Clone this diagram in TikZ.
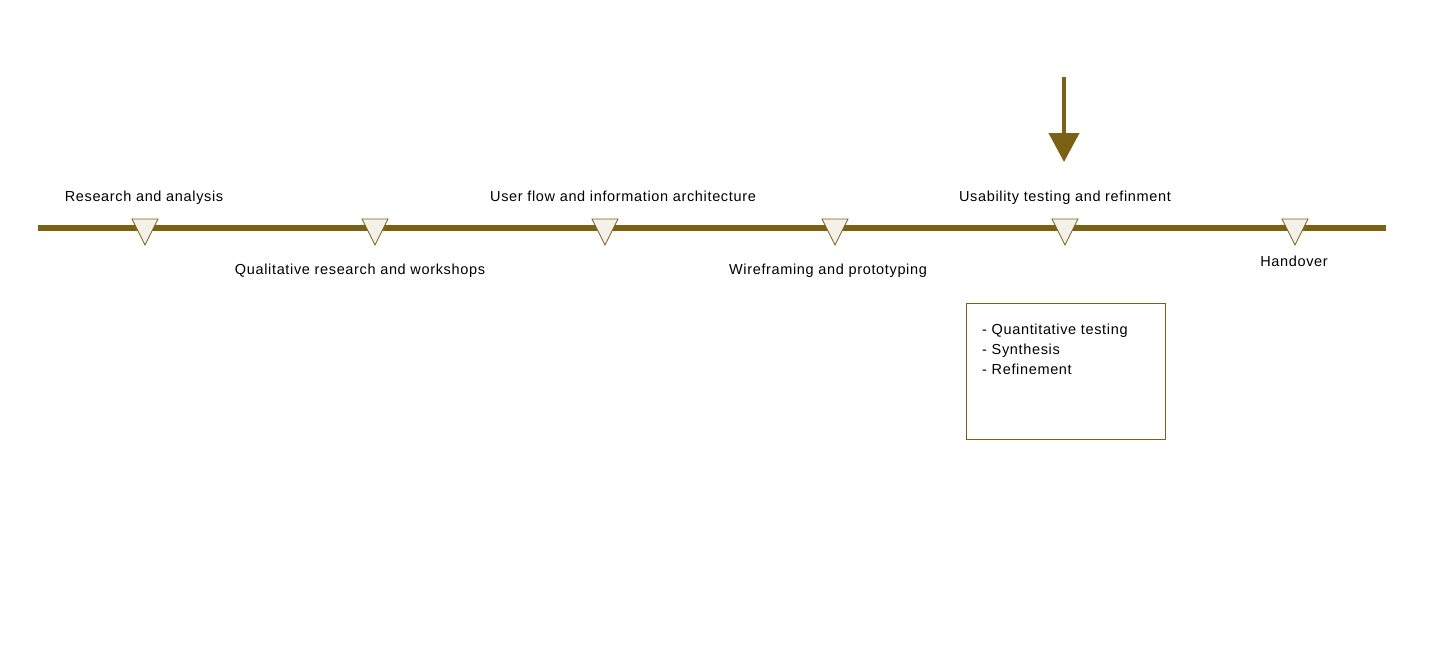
\documentclass[tikz,border=0pt]{standalone}
\usepackage{fontspec}
\setmainfont{Liberation Sans}[LetterSpace=4.5]
\usetikzlibrary{arrows.meta}
\definecolor{olive}{HTML}{7A6114}
\definecolor{tri}{HTML}{F4F1E8}
\begin{document}
\begin{tikzpicture}[x=1pt,y=-1pt,
  lbl/.style={font=\fontsize{14.5}{17}\selectfont, text=black, inner sep=0pt, anchor=base},
  marker/.style={draw=olive, fill=tri, line width=0.8pt, line join=miter}]
\useasboundingbox (0,0) rectangle (1440,659);
\coordinate (L) at (38,228);
\coordinate (R) at (1386,228);
\draw[olive, line width=6pt] (L) -- (R);
\foreach \i/\x in {1/145,2/375,3/605,4/835,5/1065,6/1295}{
  \draw[marker] (\x-13,219) -- (\x+13,219) -- (\x,245) -- cycle;
  \coordinate (m\i) at (\x,219);
}
\node[lbl] (t1) at (144,201) {Research and analysis};
\node[lbl] (t2) at (360,274) {Qualitative research and workshops};
\node[lbl] (t3) at (623,201) {User flow and information architecture};
\node[lbl] (t4) at (828,274) {Wireframing and prototyping};
\node[lbl] (t5) at (1065,201) {Usability testing and refinment};
\node[lbl] (t6) at (1294,266) {Handover};
\coordinate (a1) at (1064,77);
\coordinate (a2) at (1064,162);
\draw[olive, line width=4pt, -{Triangle[width=30pt,length=29pt]}] (a1) -- (a2);
\node[draw=olive, line width=0.8pt, minimum width=199pt, minimum height=136pt, anchor=north west, inner sep=0pt] (box) at (966,303) {};
\node[lbl, anchor=north west, align=left, font=\fontsize{14.5}{20}\selectfont] (bt) at (982,324) {- Quantitative testing\\- Synthesis\\- Refinement};
\end{tikzpicture}
\end{document}
